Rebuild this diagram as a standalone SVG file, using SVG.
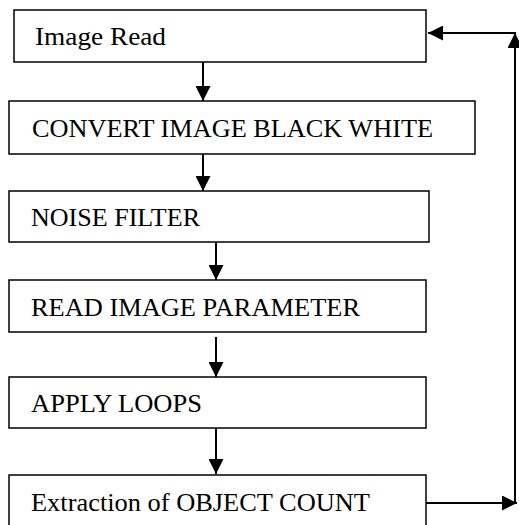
<svg xmlns="http://www.w3.org/2000/svg" width="519" height="525" viewBox="0 0 519 525">
  <style>
    .box { fill: #ffffff; stroke: #000000; stroke-width: 1.5; }
    .label { font-family: "Liberation Serif", "Times New Roman", serif; font-size: 25px; fill: #000000; }
    .flow { fill: none; stroke: #000000; stroke-width: 2; }
  </style>
  <defs>
    <marker id="head" markerUnits="userSpaceOnUse" markerWidth="16" markerHeight="15" refX="15" refY="7.5" orient="auto">
      <path d="M0,0 L15,7.5 L0,15 Z" fill="#000000"/>
    </marker>
  </defs>
  <rect width="519" height="525" fill="#ffffff"/>

  <g id="image-read">
    <rect class="box" x="14" y="10" width="412" height="52"/>
    <text class="label" x="35" y="45" textLength="131" lengthAdjust="spacingAndGlyphs">Image Read</text>
  </g>
  <g id="convert-bw">
    <rect class="box" x="9" y="101" width="466" height="53"/>
    <text class="label" x="32" y="137" textLength="401" lengthAdjust="spacingAndGlyphs">CONVERT IMAGE BLACK WHITE</text>
  </g>
  <g id="noise-filter">
    <rect class="box" x="9" y="191" width="420" height="51"/>
    <text class="label" x="31" y="226" textLength="169" lengthAdjust="spacingAndGlyphs">NOISE FILTER</text>
  </g>
  <g id="read-parameter">
    <rect class="box" x="9" y="280" width="417" height="52"/>
    <text class="label" x="31" y="316" textLength="329" lengthAdjust="spacingAndGlyphs">READ IMAGE PARAMETER</text>
  </g>
  <g id="apply-loops">
    <rect class="box" x="9" y="377" width="417" height="51"/>
    <text class="label" x="31" y="412" textLength="171" lengthAdjust="spacingAndGlyphs">APPLY LOOPS</text>
  </g>
  <g id="object-count">
    <rect class="box" x="9" y="475" width="417" height="60"/>
    <text class="label" x="31" y="511" textLength="339" lengthAdjust="spacingAndGlyphs">Extraction of OBJECT COUNT</text>
  </g>

  <g id="connectors">
    <line class="flow" x1="203" y1="62" x2="203" y2="101" marker-end="url(#head)"/>
    <line class="flow" x1="203" y1="154" x2="203" y2="191" marker-end="url(#head)"/>
    <line class="flow" x1="216" y1="242" x2="216" y2="280" marker-end="url(#head)"/>
    <line class="flow" x1="216" y1="337" x2="216" y2="377" marker-end="url(#head)"/>
    <line class="flow" x1="216" y1="428" x2="216" y2="474" marker-end="url(#head)"/>
    <!-- feedback loop back to the start -->
    <line class="flow" x1="426" y1="503" x2="517" y2="503" marker-end="url(#head)"/>
    <line class="flow" x1="515" y1="504" x2="515" y2="33" marker-end="url(#head)"/>
    <line class="flow" x1="516" y1="33" x2="428" y2="33" marker-end="url(#head)"/>
  </g>
</svg>
